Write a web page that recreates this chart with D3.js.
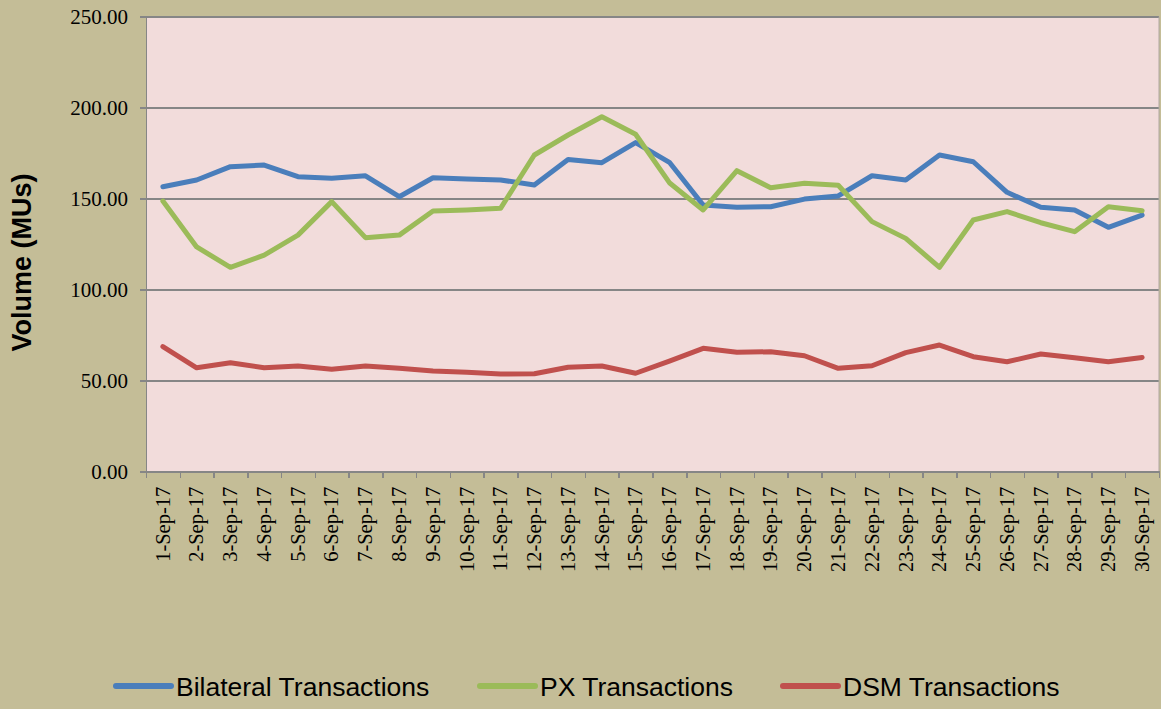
<!DOCTYPE html>
<head>
    <meta charset="utf-8" />
    <title>Transactions Sep-17</title>
</head>
<style>
    body {
        margin: 0;
        background-color: #C4BD97;
    }

    .axis path,
    .axis line {
        fill: none;
        stroke: #868686;
        stroke-width: 1.5px;
        shape-rendering: crispEdges;
    }

    .axis text {
        font-family: "Liberation Serif", "Times New Roman", serif;
        fill: #000;
    }

    .grid line {
        stroke: #868686;
        stroke-width: 2px;
        shape-rendering: crispEdges;
    }

    .series {
        fill: none;
        stroke-width: 5px;
        stroke-linejoin: round;
        stroke-linecap: round;
    }
</style>
<body>
    <svg id="chart" width="1161" height="709"></svg>
    <script src="https://d3js.org/d3.v7.min.js"></script>
    <script>
        // data
        var days = ["1-Sep-17", "2-Sep-17", "3-Sep-17", "4-Sep-17", "5-Sep-17", "6-Sep-17",
            "7-Sep-17", "8-Sep-17", "9-Sep-17", "10-Sep-17", "11-Sep-17", "12-Sep-17",
            "13-Sep-17", "14-Sep-17", "15-Sep-17", "16-Sep-17", "17-Sep-17", "18-Sep-17",
            "19-Sep-17", "20-Sep-17", "21-Sep-17", "22-Sep-17", "23-Sep-17", "24-Sep-17",
            "25-Sep-17", "26-Sep-17", "27-Sep-17", "28-Sep-17", "29-Sep-17", "30-Sep-17"];

        var bilateral = [156.6, 160.3, 167.6, 168.5, 162.1, 161.2, 162.6, 151.1, 161.5, 160.8,
            160.3, 157.5, 171.6, 169.8, 180.8, 170.0, 146.5, 145.3, 145.6, 149.8,
            151.5, 162.6, 160.3, 174.0, 170.3, 153.5, 145.3, 143.8, 134.3, 141.0];

        var px = [148.7, 123.5, 112.3, 119.0, 130.0, 148.4, 128.6, 130.0, 143.2, 143.8,
            144.7, 174.0, 185.0, 195.0, 185.4, 158.8, 143.8, 165.4, 156.0, 158.5,
            157.4, 137.4, 128.2, 112.3, 138.3, 142.9, 136.8, 131.9, 145.6, 143.4];

        var dsm = [68.7, 57.1, 59.9, 57.1, 58.1, 56.3, 58.1, 56.8, 55.3, 54.6,
            53.7, 53.8, 57.4, 58.1, 54.1, 60.8, 67.8, 65.6, 65.9, 63.7,
            56.8, 58.2, 65.4, 69.6, 63.2, 60.4, 64.7, 62.6, 60.4, 62.8];

        var seriesNames = ["Bilateral Transactions", "PX Transactions", "DSM Transactions"];
        var seriesColors = ["#4A7EBB", "#9BBB59", "#C0504D"];
        var yTicks = [0, 50, 100, 150, 200, 250];

        var svg = d3.select("#chart");

        var plot = { left: 146, right: 1159, top: 16.7, bottom: 471.7 };

        var x = d3.scaleBand().domain(days).range([plot.left, plot.right]).padding(0);
        var xEdge = d3.scaleLinear().domain([0, days.length]).range([plot.left, plot.right]);
        var y = d3.scaleLinear().domain([0, 250]).range([plot.bottom, plot.top]);

        // plot area
        svg.append("rect")
            .attr("x", plot.left)
            .attr("y", plot.top)
            .attr("width", plot.right - plot.left)
            .attr("height", plot.bottom - plot.top)
            .attr("fill", "#F2DCDB");

        // gridlines
        svg.append("g")
            .attr("class", "grid")
            .selectAll("line")
            .data(yTicks.slice(1))
            .enter().append("line")
            .attr("x1", plot.left)
            .attr("x2", plot.right)
            .attr("y1", function(d) { return Math.round(y(d)); })
            .attr("y2", function(d) { return Math.round(y(d)); });

        // thin right border of the plot
        svg.append("line")
            .attr("x1", plot.right)
            .attr("x2", plot.right)
            .attr("y1", plot.top)
            .attr("y2", plot.bottom)
            .attr("stroke", "#B0A8A0")
            .attr("stroke-width", 1);

        // y axis
        var yAxis = d3.axisLeft(y)
            .tickValues(yTicks)
            .tickFormat(d3.format(".2f"))
            .tickSize(6)
            .tickPadding(12);

        var yg = svg.append("g")
            .attr("class", "axis")
            .attr("transform", "translate(" + plot.left + ",0)")
            .call(yAxis);
        yg.selectAll("text").attr("font-size", "21px");

        // x axis: tick marks on category edges
        var xTickAxis = d3.axisBottom(xEdge)
            .tickValues(d3.range(0, days.length + 1))
            .tickFormat("")
            .tickSize(6)
            .tickSizeOuter(0);

        svg.append("g")
            .attr("class", "axis")
            .attr("transform", "translate(0," + plot.bottom + ")")
            .call(xTickAxis);

        // x labels, rotated
        var xLabelAxis = d3.axisBottom(x).tickSize(0).tickPadding(0);
        var xg = svg.append("g")
            .attr("class", "axis")
            .attr("transform", "translate(0," + plot.bottom + ")")
            .call(xLabelAxis);
        xg.select(".domain").remove();
        xg.selectAll("text")
            .attr("font-size", "20.5px")
            .attr("text-anchor", "end")
            .attr("transform", "rotate(-90)")
            .attr("x", -15)
            .attr("y", 0)
            .attr("dy", "0.33em");

        // lines
        var allSeries = [bilateral, px, dsm];
        var line = d3.line()
            .x(function(d, i) { return x(days[i]) + x.bandwidth() / 2; })
            .y(function(d) { return y(d); });

        svg.selectAll(".series")
            .data(allSeries)
            .enter().append("path")
            .attr("class", "series")
            .attr("stroke", function(d, i) { return seriesColors[i]; })
            .attr("d", line);

        // y title
        svg.append("text")
            .attr("transform", "translate(31,262.5) rotate(-90)")
            .attr("text-anchor", "middle")
            .attr("font-family", "Liberation Sans, Arial, sans-serif")
            .attr("font-weight", "bold")
            .attr("font-size", "27px")
            .text("Volume (MUs)");

        // legend
        var legendX = [116, 480, 783];
        var legend = svg.selectAll(".legend")
            .data(seriesNames)
            .enter().append("g")
            .attr("class", "legend")
            .attr("transform", function(d, i) { return "translate(" + legendX[i] + ",686)"; });

        legend.append("line")
            .attr("x1", 0)
            .attr("x2", 55)
            .attr("stroke", function(d, i) { return seriesColors[i]; })
            .attr("stroke-width", 6)
            .attr("stroke-linecap", "round");

        legend.append("text")
            .attr("x", 60)
            .attr("dy", "0.36em")
            .attr("font-family", "Liberation Sans, Arial, sans-serif")
            .attr("font-size", "26.5px")
            .text(function(d) { return d; });
    </script>
</body>
